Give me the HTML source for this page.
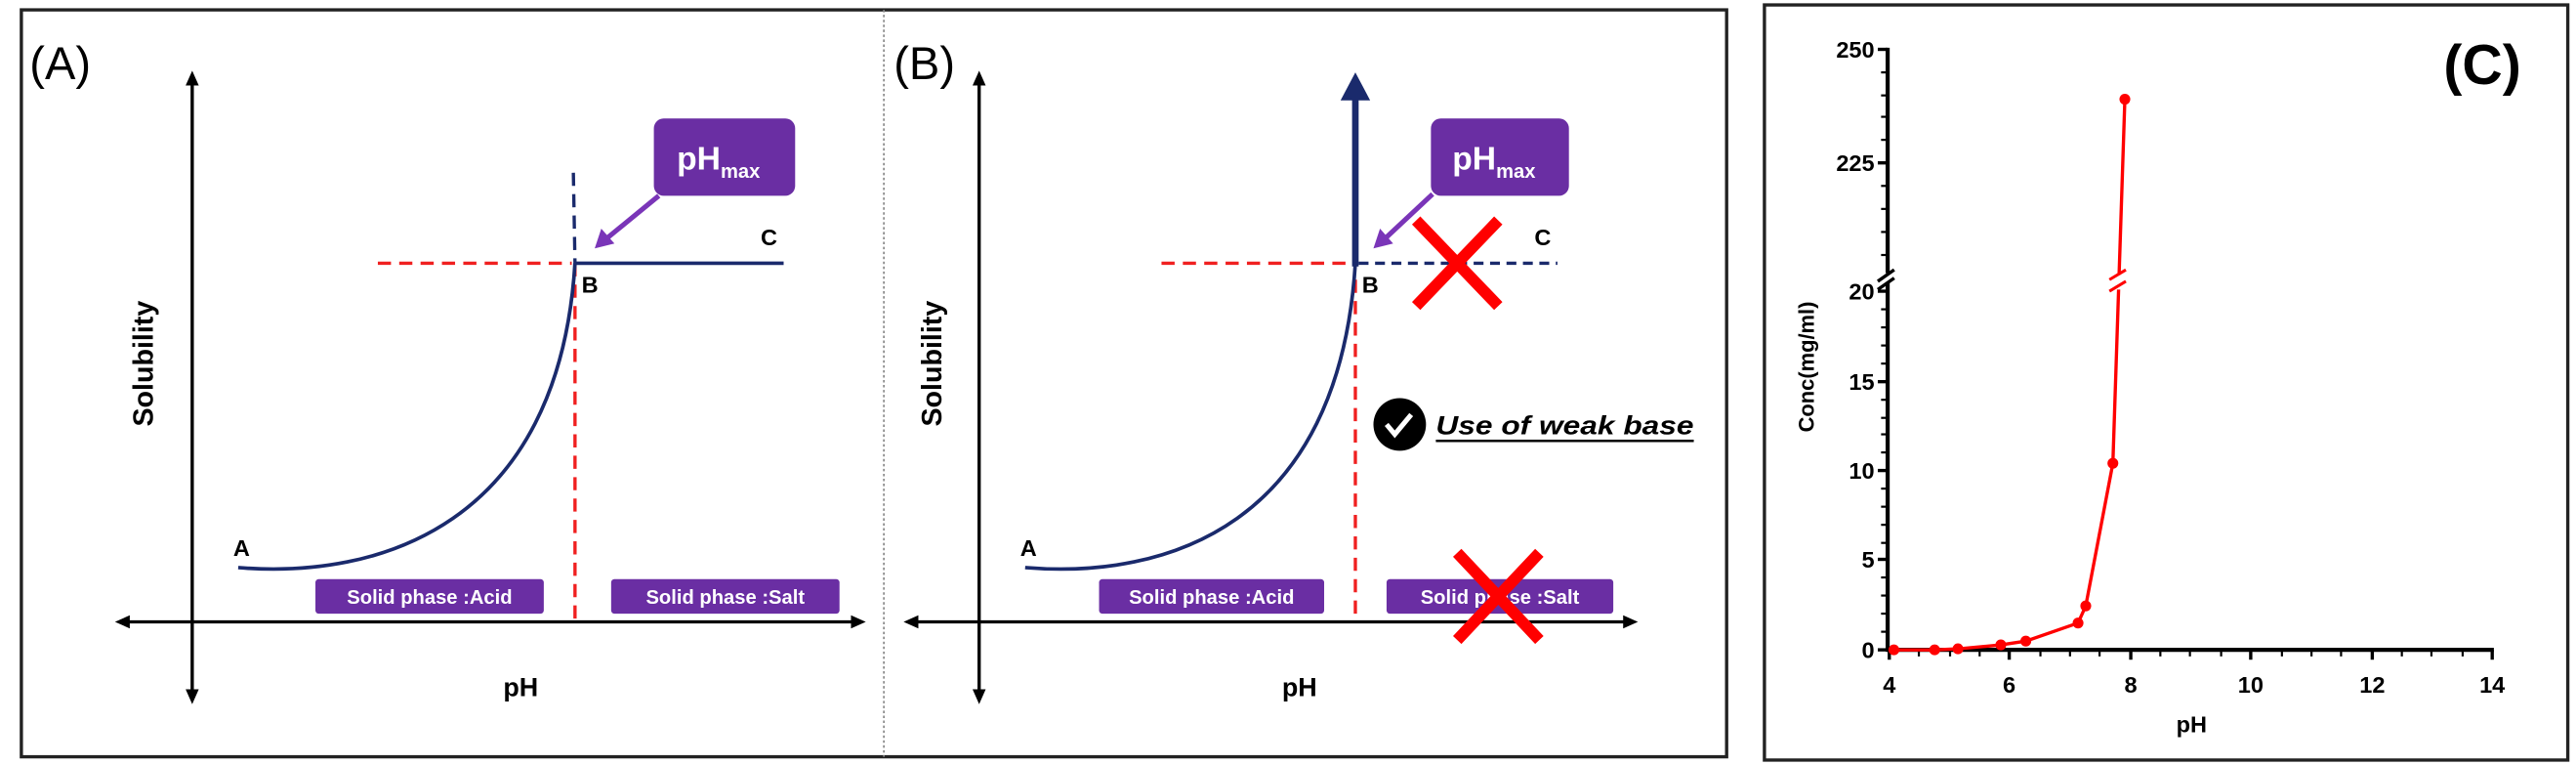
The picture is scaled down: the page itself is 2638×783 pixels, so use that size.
<!DOCTYPE html>
<html><head><meta charset="utf-8"><style>
html,body{margin:0;padding:0;background:#fff;}
svg{display:block;}
text{font-family:"Liberation Sans",Arial,sans-serif;}
</style></head><body>
<svg width="2638" height="783" viewBox="0 0 1568 465" preserveAspectRatio="none" xmlns="http://www.w3.org/2000/svg">
<!-- Panel A/B outer box -->
<rect x="13" y="6" width="1038" height="454" fill="none" stroke="#222" stroke-width="2"/>
<line x1="538" y1="6" x2="538" y2="460" stroke="#888" stroke-width="1" stroke-dasharray="1.5,1.5"/>

<!-- ===== Panel A ===== -->
<text x="18" y="48" font-size="28">(A)</text>
<line x1="117" y1="50" x2="117" y2="421" stroke="#000" stroke-width="2"/>
<path d="M117,43 l-4,9 h8 z M117,428 l-4,-9 h8 z" fill="#000"/>
<line x1="77" y1="378" x2="520" y2="378" stroke="#000" stroke-width="2"/>
<path d="M70,378 l9,-4 v8 z M527,378 l-9,-4 v8 z" fill="#000"/>
<text x="0" y="0" font-size="17" font-weight="bold" transform="translate(93,221) rotate(-90)" text-anchor="middle">Solubility</text>
<text x="317" y="423" font-size="16" font-weight="bold" text-anchor="middle">pH</text>
<line x1="350" y1="160" x2="350" y2="377" stroke="#f02020" stroke-width="2" stroke-dasharray="8,5"/>
<line x1="230" y1="160" x2="348" y2="160" stroke="#f02020" stroke-width="2" stroke-dasharray="8,5"/>
<line x1="349" y1="105" x2="350" y2="160" stroke="#1a2a6c" stroke-width="2" stroke-dasharray="8,5"/>
<path d="M145,345 C230,352 340,320 350,160" fill="none" stroke="#1a2a6c" stroke-width="2.2"/>
<line x1="350" y1="160" x2="477" y2="160" stroke="#1a2a6c" stroke-width="2.2"/>
<text x="142" y="338" font-size="14" font-weight="bold">A</text>
<text x="354" y="178" font-size="14" font-weight="bold">B</text>
<text x="463" y="149" font-size="14" font-weight="bold">C</text>
<rect x="398" y="72" width="86" height="47" rx="6" fill="#6a2ea3"/>
<text x="412" y="103" font-size="20" font-weight="bold" fill="#fff">pH<tspan font-size="12" dy="5">max</tspan></text>
<line x1="401" y1="119" x2="368" y2="146" stroke="#7a35b8" stroke-width="3"/>
<path d="M362,151 l4,-12 l8,9 z" fill="#7a35b8"/>
<rect x="192" y="352" width="139" height="21" rx="2" fill="#6a2ea3"/>
<text x="261.5" y="367" font-size="12" font-weight="bold" fill="#fff" text-anchor="middle">Solid phase :Acid</text>
<rect x="372" y="352" width="139" height="21" rx="2" fill="#6a2ea3"/>
<text x="441.5" y="367" font-size="12" font-weight="bold" fill="#fff" text-anchor="middle">Solid phase :Salt</text>

<!-- ===== Panel B ===== -->
<text x="544" y="48" font-size="28">(B)</text>
<line x1="596" y1="50" x2="596" y2="421" stroke="#000" stroke-width="2"/>
<path d="M596,43 l-4,9 h8 z M596,428 l-4,-9 h8 z" fill="#000"/>
<line x1="557" y1="378" x2="990" y2="378" stroke="#000" stroke-width="2"/>
<path d="M550,378 l9,-4 v8 z M997,378 l-9,-4 v8 z" fill="#000"/>
<text x="0" y="0" font-size="17" font-weight="bold" transform="translate(573,221) rotate(-90)" text-anchor="middle">Solubility</text>
<text x="791" y="423" font-size="16" font-weight="bold" text-anchor="middle">pH</text>
<line x1="825" y1="170" x2="825" y2="377" stroke="#f02020" stroke-width="2" stroke-dasharray="8,5"/>
<line x1="707" y1="160" x2="823" y2="160" stroke="#f02020" stroke-width="2" stroke-dasharray="8,5"/>
<line x1="827" y1="160" x2="948" y2="160" stroke="#1a2a6c" stroke-width="2" stroke-dasharray="6,4"/>
<path d="M624,345 C710,352 815,320 825,160" fill="none" stroke="#1a2a6c" stroke-width="2.2"/>
<line x1="825" y1="162" x2="825" y2="58" stroke="#1a2a6c" stroke-width="4"/>
<path d="M825,44 l-9,17 h18 z" fill="#1a2a6c"/>
<text x="621" y="338" font-size="14" font-weight="bold">A</text>
<text x="829" y="178" font-size="14" font-weight="bold">B</text>
<text x="934" y="149" font-size="14" font-weight="bold">C</text>
<rect x="871" y="72" width="84" height="47" rx="6" fill="#6a2ea3"/>
<text x="884" y="103" font-size="20" font-weight="bold" fill="#fff">pH<tspan font-size="12" dy="5">max</tspan></text>
<line x1="872" y1="118" x2="842" y2="146" stroke="#7a35b8" stroke-width="3"/>
<path d="M836,151 l4,-12 l8,9 z" fill="#7a35b8"/>
<path d="M862,134 L912,186 M912,134 L862,186" stroke="#f00" stroke-width="7"/>
<rect x="669" y="352" width="137" height="21" rx="2" fill="#6a2ea3"/>
<text x="737.5" y="367" font-size="12" font-weight="bold" fill="#fff" text-anchor="middle">Solid phase :Acid</text>
<rect x="844" y="352" width="138" height="21" rx="2" fill="#6a2ea3"/>
<text x="913" y="367" font-size="12" font-weight="bold" fill="#fff" text-anchor="middle">Solid phase :Salt</text>
<path d="M887,336 L937,389 M937,336 L887,389" stroke="#f00" stroke-width="7"/>
<circle cx="852" cy="258" r="16" fill="#000"/>
<path d="M844,258 l5,6 l10,-12" fill="none" stroke="#fff" stroke-width="3"/>
<text x="874" y="264" font-size="16" font-weight="bold" font-style="italic" textLength="157" lengthAdjust="spacingAndGlyphs">Use of weak base</text>
<line x1="874" y1="268" x2="1031" y2="268" stroke="#000" stroke-width="1.5"/>

<!-- ===== Panel C ===== -->
<rect x="1074" y="3" width="489" height="459" fill="none" stroke="#222" stroke-width="2"/>
<text x="1511" y="51" font-size="34" font-weight="bold" text-anchor="middle">(C)</text>
<g stroke="#000" stroke-width="2.5" fill="none">
<line x1="1149" y1="29" x2="1149" y2="166"/>
<line x1="1149" y1="172" x2="1149" y2="396"/>
<line x1="1148" y1="395" x2="1518" y2="395"/>
</g>
<path d="M1143,171 l10,-7 M1143,176 l10,-7" stroke="#000" stroke-width="2"/>
<g stroke="#000" stroke-width="2">
<line x1="1143" y1="30" x2="1149" y2="30"/><line x1="1143" y1="99" x2="1149" y2="99"/>
<line x1="1143" y1="177" x2="1149" y2="177"/><line x1="1143" y1="232" x2="1149" y2="232"/>
<line x1="1143" y1="286" x2="1149" y2="286"/><line x1="1143" y1="340" x2="1149" y2="340"/>
<line x1="1143" y1="395" x2="1149" y2="395"/>
</g>
<g stroke="#000" stroke-width="1.3">
<line x1="1145" y1="44" x2="1149" y2="44"/><line x1="1145" y1="58" x2="1149" y2="58"/><line x1="1145" y1="71" x2="1149" y2="71"/><line x1="1145" y1="85" x2="1149" y2="85"/>
<line x1="1145" y1="113" x2="1149" y2="113"/><line x1="1145" y1="127" x2="1149" y2="127"/><line x1="1145" y1="141" x2="1149" y2="141"/><line x1="1145" y1="155" x2="1149" y2="155"/>
<line x1="1145" y1="188" x2="1149" y2="188"/><line x1="1145" y1="199" x2="1149" y2="199"/><line x1="1145" y1="210" x2="1149" y2="210"/><line x1="1145" y1="221" x2="1149" y2="221"/>
<line x1="1145" y1="243" x2="1149" y2="243"/><line x1="1145" y1="254" x2="1149" y2="254"/><line x1="1145" y1="264" x2="1149" y2="264"/><line x1="1145" y1="275" x2="1149" y2="275"/>
<line x1="1145" y1="297" x2="1149" y2="297"/><line x1="1145" y1="308" x2="1149" y2="308"/><line x1="1145" y1="319" x2="1149" y2="319"/><line x1="1145" y1="330" x2="1149" y2="330"/>
<line x1="1145" y1="351" x2="1149" y2="351"/><line x1="1145" y1="362" x2="1149" y2="362"/><line x1="1145" y1="373" x2="1149" y2="373"/><line x1="1145" y1="384" x2="1149" y2="384"/>
</g>
<g stroke="#000" stroke-width="2">
<line x1="1150" y1="395" x2="1150" y2="401"/><line x1="1223" y1="395" x2="1223" y2="401"/><line x1="1297" y1="395" x2="1297" y2="401"/>
<line x1="1370" y1="395" x2="1370" y2="401"/><line x1="1444" y1="395" x2="1444" y2="401"/><line x1="1517" y1="395" x2="1517" y2="401"/>
</g>
<g stroke="#000" stroke-width="1.3">
<line x1="1168" y1="395" x2="1168" y2="399"/><line x1="1187" y1="395" x2="1187" y2="399"/><line x1="1205" y1="395" x2="1205" y2="399"/>
<line x1="1242" y1="395" x2="1242" y2="399"/><line x1="1260" y1="395" x2="1260" y2="399"/><line x1="1278" y1="395" x2="1278" y2="399"/>
<line x1="1315" y1="395" x2="1315" y2="399"/><line x1="1333" y1="395" x2="1333" y2="399"/><line x1="1352" y1="395" x2="1352" y2="399"/>
<line x1="1389" y1="395" x2="1389" y2="399"/><line x1="1407" y1="395" x2="1407" y2="399"/><line x1="1425" y1="395" x2="1425" y2="399"/>
<line x1="1462" y1="395" x2="1462" y2="399"/><line x1="1480" y1="395" x2="1480" y2="399"/><line x1="1499" y1="395" x2="1499" y2="399"/>
</g>
<g font-size="14" font-weight="bold" text-anchor="end">
<text x="1141" y="35">250</text><text x="1141" y="104">225</text><text x="1141" y="182">20</text>
<text x="1141" y="237">15</text><text x="1141" y="291">10</text><text x="1141" y="345">5</text><text x="1141" y="400">0</text>
</g>
<g font-size="14" font-weight="bold" text-anchor="middle">
<text x="1150" y="421">4</text><text x="1223" y="421">6</text><text x="1297" y="421">8</text>
<text x="1370" y="421">10</text><text x="1444" y="421">12</text><text x="1517" y="421">14</text>
</g>
<text x="1334" y="445" font-size="14" font-weight="bold" text-anchor="middle">pH</text>
<text x="0" y="0" font-size="13" font-weight="bold" text-anchor="middle" transform="translate(1104,223) rotate(-90)">Conc(mg/ml)</text>
<polyline points="1152.8,395 1177.6,395 1191.8,394.4 1217.9,392 1233.1,389.7 1264.9,378.7 1269.6,368.3 1286.1,281.6 1293.4,60.3" fill="none" stroke="#f00" stroke-width="2"/>
<g fill="#f00">
<circle cx="1152.8" cy="395" r="3.3"/><circle cx="1177.6" cy="395" r="3.3"/><circle cx="1191.8" cy="394.4" r="3.3"/>
<circle cx="1217.9" cy="392" r="3.3"/><circle cx="1233.1" cy="389.7" r="3.3"/><circle cx="1264.9" cy="378.7" r="3.3"/>
<circle cx="1269.6" cy="368.3" r="3.3"/><circle cx="1286.1" cy="281.6" r="3.3"/><circle cx="1293.4" cy="60.3" r="3.3"/>
</g>
<rect x="1285" y="167" width="8" height="9" fill="#fff"/>
<path d="M1284,170 l10,-6 M1284,177 l10,-6" stroke="#f00" stroke-width="1.8"/>
</svg>
</body></html>
